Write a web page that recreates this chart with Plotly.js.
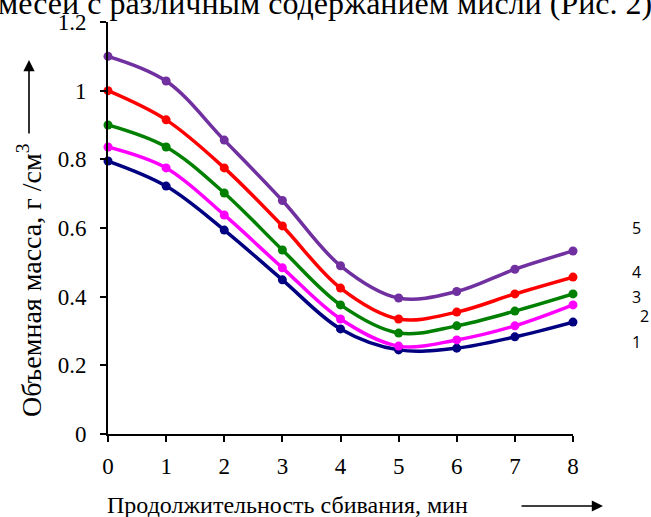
<!DOCTYPE html>
<html>
<head>
<meta charset="utf-8">
<script src="https://cdn.plot.ly/plotly-3.0.1.min.js"></script>
<style>html,body{margin:0;padding:0;background:#fff;}#chart{width:651px;height:517px;}</style>
</head>
<body>
<div id="chart"></div>
<script>
const minutes = [0, 1, 2, 3, 4, 5, 6, 7, 8];
const series1 = [0.795, 0.722, 0.594, 0.449, 0.306, 0.245, 0.250, 0.283, 0.326];
const series2 = [0.836, 0.775, 0.638, 0.484, 0.335, 0.256, 0.274, 0.315, 0.376];
const series3 = [0.900, 0.836, 0.702, 0.536, 0.376, 0.294, 0.315, 0.358, 0.408];
const series4 = [1.000, 0.915, 0.775, 0.606, 0.425, 0.335, 0.355, 0.408, 0.457];
const series5 = [1.100, 1.028, 0.856, 0.680, 0.490, 0.396, 0.415, 0.480, 0.533];
const seriesNames = ['1', '2', '3', '4', '5'];
const seriesColors = ['#000080', '#FF00FF', '#008000', '#FF0000', '#7030A0'];
const labelY = [0.268, 0.344, 0.399, 0.472, 0.600];
const labelX = [1.1376, 1.1548, 1.1376, 1.1376, 1.1376];
const yTicks = [0, 0.2, 0.4, 0.6, 0.8, 1, 1.2];
const yTickText = ['0', '0.2', '0.4', '0.6', '0.8', '1', '1.2'];

const allSeries = [series1, series2, series3, series4, series5];
const traces = allSeries.map((s, i) => ({
  x: minutes, y: s, name: seriesNames[i], type: 'scatter', mode: 'lines+markers',
  line: {color: seriesColors[i], width: 3.5, shape: 'spline', smoothing: 1},
  marker: {color: seriesColors[i], size: 9},
  cliponaxis: false, showlegend: false
}));

const serif = 'Liberation Serif';
const annotations = seriesNames.map((n, i) => ({
  text: n, xref: 'paper', yref: 'y', x: labelX[i], y: labelY[i],
  xanchor: 'center', yanchor: 'middle', showarrow: false,
  font: {family: 'Open Sans', size: 16, color: '#000'}
}));
annotations.push({
  text: 'Объемная масса, г /см<sup>3</sup>', xref: 'paper', yref: 'paper',
  x: (29 - 108) / 465, y: (434 - 280) / 412, xanchor: 'center', yanchor: 'middle', textangle: -90,
  showarrow: false, font: {family: serif, size: 28, color: '#000'}
});
annotations.push({
  text: '', xref: 'paper', yref: 'paper', x: (29 - 108) / 465, y: (434 - 60) / 412,
  ax: 0, ay: 75, showarrow: true, arrowhead: 2, arrowsize: 1.4, arrowwidth: 1.6, arrowcolor: '#000'
});
annotations.push({
  text: 'Продолжительность сбивания, мин', xref: 'paper', yref: 'paper',
  x: (287 - 108) / 465, y: (434 - 505) / 412, xanchor: 'center', yanchor: 'middle',
  showarrow: false, font: {family: serif, size: 24, color: '#000'}
});
annotations.push({
  text: '', xref: 'paper', yref: 'paper', x: (603 - 108) / 465, y: (434 - 506) / 412,
  ax: -83, ay: 0, showarrow: true, arrowhead: 2, arrowsize: 1.4, arrowwidth: 1.6, arrowcolor: '#000'
});
annotations.push({
  text: 'месей с различным содержанием мисли (Рис. 2)', xref: 'paper', yref: 'paper',
  x: (325 - 108) / 465, y: (434 - 23) / 412, xanchor: 'center', yanchor: 'bottom',
  showarrow: false, font: {family: serif, size: 32, color: '#000'}
});

const tickFont = {family: serif, size: 23, color: '#000'};
const layout = {
  width: 651, height: 517,
  margin: {l: 108, r: 78, t: 22, b: 83},
  paper_bgcolor: '#fff', plot_bgcolor: '#fff',
  font: {family: serif, size: 23, color: '#000'},
  xaxis: {
    range: [0, 8], tickmode: 'array', tickvals: minutes, ticktext: minutes.map(String),
    showgrid: false, zeroline: false, showline: true, linecolor: '#000', linewidth: 2,
    ticks: 'outside', ticklen: 6, tickwidth: 2, tickcolor: '#000',
    ticklabelstandoff: 4, tickfont: tickFont
  },
  yaxis: {
    range: [0, 1.2], tickmode: 'array', tickvals: yTicks, ticktext: yTickText,
    showgrid: false, zeroline: false, showline: true, linecolor: '#000', linewidth: 2,
    ticks: 'outside', ticklen: 6, tickwidth: 2, tickcolor: '#000',
    ticklabelstandoff: 9, tickfont: tickFont
  },
  annotations: annotations
};
Plotly.newPlot('chart', traces, layout, {displayModeBar: false, staticPlot: true});
</script>
</body>
</html>
